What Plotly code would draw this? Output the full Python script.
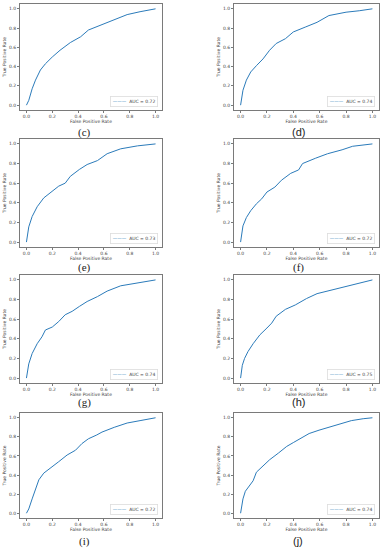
import plotly.graph_objects as go

# ---------------- data ----------------
panel_labels = ["(c)", "(d)", "(e)", "(f)", "(g)", "(h)", "(i)", "(j)"]
auc_values = ["0.72", "0.74", "0.73", "0.72", "0.74", "0.75", "0.72", "0.74"]

fpr_c = [0, .018, .044, .07, .108, .147, .2, .26, .34, .42, .48, .57, .68, .78, .88, 1]
tpr_c = [0, .05, .17, .26, .365, .43, .5, .57, .65, .71, .78, .83, .885, .94, .97, 1]

fpr_d = [0, .018, .044, .077, .12, .17, .22, .27, .34, .40, .49, .58, .67, .80, .90, 1]
tpr_d = [0, .155, .26, .345, .41, .48, .57, .64, .69, .76, .81, .86, .93, .965, .98, 1]

fpr_e = [0, .018, .044, .083, .134, .2, .25, .3, .34, .41, .47, .55, .625, .73, .86, 1]
tpr_e = [0, .155, .26, .36, .45, .52, .57, .6, .67, .74, .79, .83, .9, .95, .98, 1]

fpr_f = [0, .018, .044, .077, .12, .16, .2, .26, .31, .38, .44, .47, .57, .66, .77, .85, 1]
tpr_f = [0, .165, .25, .32, .39, .44, .51, .56, .63, .70, .735, .80, .855, .9, .94, .976, 1]

fpr_g = [0, .018, .044, .083, .12, .147, .2, .25, .3, .354, .41, .47, .55, .625, .73, .83, .935, 1]
tpr_g = [0, .145, .25, .35, .42, .49, .52, .576, .645, .68, .73, .78, .83, .886, .94, .96, .98, 1]

fpr_h = [0, .013, .03, .056, .095, .146, .2, .236, .27, .34, .415, .5, .58, .67, .76, .85, 1]
tpr_h = [0, .13, .2, .27, .35, .44, .51, .56, .63, .70, .745, .81, .86, .89, .92, .955, 1]

fpr_i = [0, .018, .044, .07, .096, .134, .186, .25, .315, .38, .43, .48, .545, .585, .68, .78, .88, 1]
tpr_i = [0, .045, .15, .25, .35, .42, .47, .54, .61, .66, .73, .78, .82, .85, .90, .945, .97, 1]

fpr_j = [0, .018, .036, .07, .095, .12, .17, .22, .287, .35, .4, .48, .52, .595, .67, .76, .84, .93, 1]
tpr_j = [0, .15, .23, .29, .34, .43, .49, .56, .63, .70, .74, .80, .835, .87, .90, .935, .97, .99, 1]

fprs = [fpr_c, fpr_d, fpr_e, fpr_f, fpr_g, fpr_h, fpr_i, fpr_j]
tprs = [tpr_c, tpr_d, tpr_e, tpr_f, tpr_g, tpr_h, tpr_i, tpr_j]

tick_vals = [0.0, 0.2, 0.4, 0.6, 0.8, 1.0]
tick_text = ["0.0", "0.2", "0.4", "0.6", "0.8", "1.0"]

# ---------------- layout geometry ----------------
W, H = 384, 550
col_px = [(20, 162), (234, 379)]
row_px = [(4, 110), (139, 247), (275, 383), (413, 518)]
label_y_px = [132, 267, 402, 541]
label_x_px = [84, 298]
label_fonts = ["Liberation Serif", "Liberation Sans", "Liberation Serif", "Liberation Serif",
               "Liberation Serif", "Liberation Sans", "Liberation Serif", "Liberation Sans"]

BLUE = "#2b7bba"
FRAME = "#7a7a7a"
TXT = "#444444"

fig = go.Figure()
annotations = []

for i in range(8):
    r, c = divmod(i, 2)
    n = "" if i == 0 else str(i + 1)
    xa, ya = "x" + n, "y" + n
    fig.add_trace(go.Scatter(x=fprs[i], y=tprs[i], mode="lines",
                             line=dict(color=BLUE, width=1),
                             xaxis=xa, yaxis=ya, showlegend=False,
                             hoverinfo="skip"))
    x0, x1 = col_px[c]
    t0, t1 = row_px[r]
    common = dict(range=[-0.05, 1.05], tickvals=tick_vals, ticktext=tick_text,
                  showgrid=False, zeroline=False, showline=True, mirror=True,
                  linecolor=FRAME, linewidth=1, ticks="outside", ticklen=2,
                  tickwidth=0.8, tickcolor=FRAME,
                  tickfont=dict(size=4.5, color=TXT, family="DejaVu Sans"))
    fig.layout["xaxis" + n] = dict(
        common, domain=[x0 / W, x1 / W], anchor=ya,
        title=dict(text="False Positive Rate", standoff=1,
                   font=dict(size=4.5, color=TXT, family="DejaVu Sans")))
    fig.layout["yaxis" + n] = dict(
        common, domain=[1 - t1 / H, 1 - t0 / H], anchor=xa,
        title=dict(text="True Positive Rate", standoff=2,
                   font=dict(size=4.5, color=TXT, family="DejaVu Sans")))
    # legend box
    annotations.append(dict(
        xref=xa + " domain", yref=ya + " domain", x=0.975, y=0.03,
        xanchor="right", yanchor="bottom", showarrow=False,
        text="<span style='color:%s'>———</span>  AUC = %s" % (BLUE, auc_values[i]),
        font=dict(size=4.5, color=TXT, family="DejaVu Sans"),
        bgcolor="white", bordercolor="#dddddd", borderwidth=0.8, borderpad=2))
    # panel label
    annotations.append(dict(
        xref="paper", yref="paper", x=label_x_px[c] / W, y=1 - label_y_px[r] / H,
        xanchor="center", yanchor="middle", showarrow=False,
        text=panel_labels[i],
        font=dict(size=11, color="#222222", family=label_fonts[i])))

fig.update_layout(width=W, height=H, margin=dict(l=0, r=0, t=0, b=0),
                  paper_bgcolor="white", plot_bgcolor="white",
                  annotations=annotations)

fig.write_html("out.html",
               config={"displayModeBar": False},
               post_script="document.body.style.margin='0';"
                           "document.body.style.overflow='hidden';")
